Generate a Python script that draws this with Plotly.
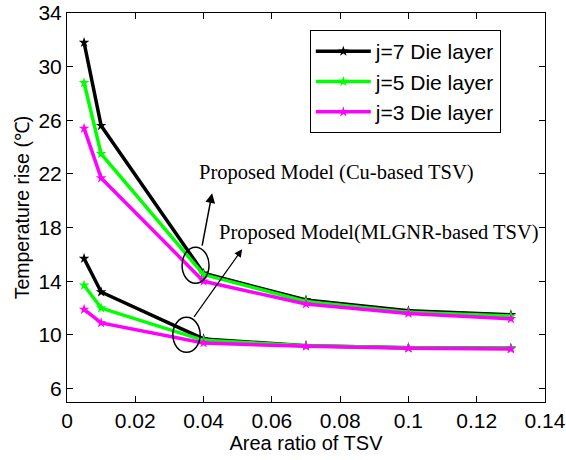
import plotly.graph_objects as go

x_vals = [0.005, 0.01, 0.04, 0.07, 0.1, 0.13]

cu_j7 = [31.8, 25.6, 14.6, 12.6, 11.8, 11.5]
cu_j5 = [28.8, 23.5, 14.5, 12.5, 11.7, 11.4]
cu_j3 = [25.4, 21.7, 14.0, 12.3, 11.6, 11.2]

mlgnr_j7 = [15.7, 13.2, 9.7, 9.2, 9.05, 9.0]
mlgnr_j5 = [13.7, 12.0, 9.6, 9.2, 9.05, 9.0]
mlgnr_j3 = [11.9, 10.9, 9.4, 9.15, 9.0, 8.95]

series_names = ["j=7 Die layer", "j=5 Die layer", "j=3 Die layer"]
series_colors = ["#000000", "#00ff00", "#ff00ff"]

x_tickvals = [0, 0.02, 0.04, 0.06, 0.08, 0.1, 0.12, 0.14]
x_ticktext = ["0", "0.02", "0.04", "0.06", "0.08", "0.1", "0.12", "0.14"]
y_tickvals = [6, 10, 14, 18, 22, 26, 30, 34]

fig = go.Figure()

cu_data = [cu_j7, cu_j5, cu_j3]
ml_data = [mlgnr_j7, mlgnr_j5, mlgnr_j3]

for name, color, ys in zip(series_names, series_colors, ml_data):
    fig.add_trace(go.Scatter(
        x=x_vals, y=ys, mode="lines+markers", name=name, legendgroup=name,
        showlegend=False,
        line=dict(color=color, width=3.5),
        marker=dict(symbol="star", size=8, color=color),
    ))
for name, color, ys in zip(series_names, series_colors, cu_data):
    fig.add_trace(go.Scatter(
        x=x_vals, y=ys, mode="lines+markers", name=name, legendgroup=name,
        showlegend=True,
        line=dict(color=color, width=3.5),
        marker=dict(symbol="star", size=8, color=color),
    ))

# ellipses
fig.add_shape(type="circle", xref="x", yref="y", x0=0.0337, x1=0.0416, y0=13.85, y1=16.54,
              line=dict(color="black", width=1.5))
fig.add_shape(type="circle", xref="x", yref="y", x0=0.0310, x1=0.0390, y0=8.70, y1=11.31,
              line=dict(color="black", width=1.5))

# arrows
fig.add_annotation(x=0.0425, y=20.57, ax=0.0395, ay=16.54, xref="x", yref="y",
                   axref="x", ayref="y", text="", showarrow=True,
                   arrowhead=2, arrowsize=1.3, arrowwidth=1.5, arrowcolor="black")
fig.add_annotation(x=0.0513, y=16.39, ax=0.0369, ay=11.24, xref="x", yref="y",
                   axref="x", ayref="y", text="", showarrow=True,
                   arrowhead=2, arrowsize=1.3, arrowwidth=1.2, arrowcolor="black")

serif = "Liberation Serif, Times New Roman, serif"
fig.add_annotation(x=0.0381, y=22.1, xref="x", yref="y", text="Proposed Model (Cu-based TSV)",
                   showarrow=False, xanchor="left", yanchor="middle",
                   font=dict(family=serif, size=20.5, color="black"))
fig.add_annotation(x=0.0439, y=17.6, xref="x", yref="y", text="Proposed Model(MLGNR-based TSV)",
                   showarrow=False, xanchor="left", yanchor="middle",
                   font=dict(family=serif, size=20.5, color="black"))

sans = "Liberation Sans, Arial, sans-serif"
axis_common = dict(
    showline=True, linecolor="black", linewidth=1, mirror="ticks",
    ticks="inside", ticklen=6, tickcolor="black", showgrid=False, zeroline=False,
    automargin=False, ticklabeloverflow="allow",
    tickfont=dict(family=sans, size=21, color="black"),
)

fig.update_xaxes(range=[0, 0.14], tickvals=x_tickvals, ticktext=x_ticktext,
                 title=dict(text="Area ratio of TSV", font=dict(family=sans, size=20, color="black"), standoff=4),
                 **axis_common)
fig.update_yaxes(range=[5, 34], tickvals=y_tickvals,
                 title=dict(text="Temperature rise (℃)", font=dict(family=sans, size=19.5, color="black"), standoff=3),
                 **axis_common)

fig.update_layout(
    width=566, height=460,
    margin=dict(l=67, r=21, t=13, b=58),
    plot_bgcolor="white", paper_bgcolor="white",
    legend=dict(x=0.508, y=0.956, xanchor="left", yanchor="top",
                bordercolor="black", borderwidth=1, bgcolor="white",
                font=dict(family=sans, size=21, color="black"),
                tracegroupgap=0, itemwidth=55),
)

# remove the browser's default 8px body margin so the figure sits at the window's corner
fig.write_html("out.html", config={"displayModeBar": False},
               post_script="document.body.style.margin='0';")
